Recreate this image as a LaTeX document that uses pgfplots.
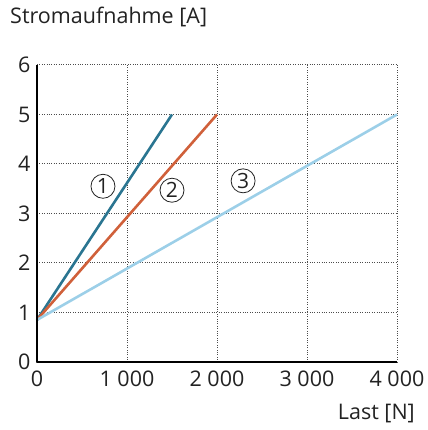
\documentclass[border=0pt]{standalone}
\usepackage{pgfplots}
\pgfplotsset{compat=1.18}
\usepackage{fontspec}
\setmainfont{Open Sans}
\definecolor{cA}{HTML}{2A7591}
\definecolor{cB}{HTML}{D0603A}
\definecolor{cC}{HTML}{9CCFE8}
\definecolor{txt}{HTML}{222222}
\begin{document}
\begin{tikzpicture}
\begin{axis}[
  name=ax,
  scale only axis,
  width=360bp, height=297bp,
  xmin=0, xmax=4000, ymin=0, ymax=6,
  axis x line*=bottom, axis y line*=left,
  axis line style={line width=2.6bp, black, -},
  xtick={0,1000,2000,3000,4000},
  xticklabels={0,1\ 000,2\ 000,3\ 000,4\ 000},
  ytick={0,1,2,3,4,5,6},
  major tick length=0pt,
  grid=major,
  major grid style={dotted, line width=1bp, black!70},
  tick label style={font=\fontsize{21.5bp}{25bp}\selectfont, text=txt},
  /pgf/number format/assume math mode=true,
  xticklabel style={yshift=-5bp},
  yticklabel style={xshift=-3bp},
  clip=false,
]
\addplot[cA, line width=2.6bp] coordinates {(0,0.85) (1500,5)};
\addplot[cB, line width=2.6bp] coordinates {(0,0.85) (2000,5)};
\addplot[cC, line width=2.6bp] coordinates {(0,0.85) (4000,5)};
\draw[black, line width=2.6bp] (axis cs:0,0) -- (axis cs:0,6);
\draw[black, line width=2.6bp] (axis cs:0,0) -- (axis cs:4000,0);
\node[circle, draw=txt, line width=0.8bp, inner sep=0.5bp, minimum size=24bp, text=txt, font=\fontsize{21bp}{24bp}\selectfont] at (axis cs:733,3.55) {1};
\node[circle, draw=txt, line width=0.8bp, inner sep=0.5bp, minimum size=24bp, text=txt, font=\fontsize{21bp}{24bp}\selectfont] at (axis cs:1500,3.47) {2};
\node[circle, draw=txt, line width=0.8bp, inner sep=0.5bp, minimum size=24bp, text=txt, font=\fontsize{21bp}{24bp}\selectfont] at (axis cs:2290,3.66) {3};
\end{axis}
\node[anchor=base west, text=txt, font=\fontsize{21.5bp}{25bp}\selectfont, inner sep=0] at ([shift={(-27bp,41bp)}]ax.north west) {Stromaufnahme [A]};
\node[anchor=base east, text=txt, font=\fontsize{21.5bp}{25bp}\selectfont, inner sep=0] at ([shift={(18bp,-57bp)}]ax.south east) {Last [N]};
\path[use as bounding box] ([shift={(-37bp,-68bp)}]ax.south west) rectangle ([shift={(28bp,65bp)}]ax.north east);
\end{tikzpicture}
\end{document}
